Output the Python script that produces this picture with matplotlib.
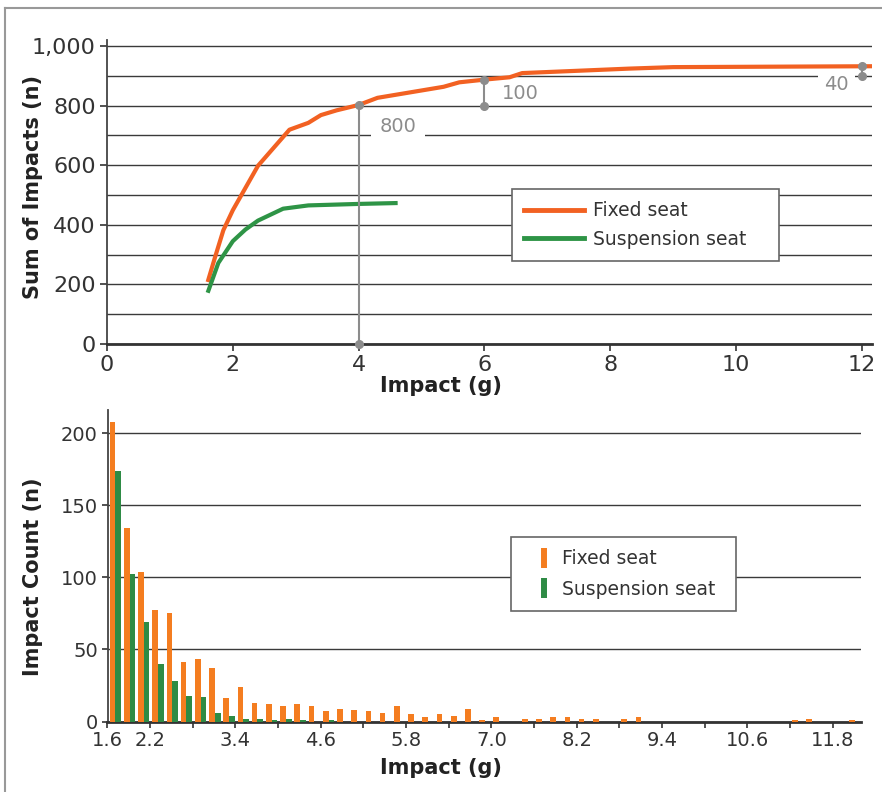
import numpy as np
import matplotlib
matplotlib.use('Agg')
import matplotlib.pyplot as plt
from matplotlib.lines import Line2D

# curvas acumuladas
fixo_x = [1.6, 1.72, 1.85, 2.0, 2.4, 2.9, 3.2, 3.4, 3.65, 4.0, 4.3, 5.35, 5.6, 6.0, 6.4, 6.6, 7.4, 8.3, 9.0, 12.2]
fixo_y = [208, 293, 382, 449, 598, 719, 742, 768, 784, 802, 826, 863, 878, 887, 895, 909, 916, 924, 929, 932]
susp_x = [1.6, 1.77, 2.0, 2.2, 2.4, 2.8, 3.2, 4.0, 4.62]
susp_y = [172, 272, 345, 384, 414, 454, 465, 470, 473]

# histograma (classes de 0.2 g)
classes = [1.6, 1.8, 2.0, 2.2, 2.4, 2.6, 2.8, 3.0, 3.2, 3.4, 3.6, 3.8, 4.0, 4.2, 4.4, 4.6, 4.8, 5.0,
           5.2, 5.4, 5.6, 5.8, 6.0, 6.2, 6.4, 6.6, 6.8, 7.0, 7.2, 7.4, 7.6, 7.8, 8.0, 8.2, 8.4, 8.6,
           8.8, 9.0, 9.2, 9.4, 9.6, 9.8, 10.0, 10.2, 10.4, 10.6, 10.8, 11.0, 11.2, 11.4, 11.6, 11.8, 12.0]
cont_fixo = [208, 134, 104, 77, 75, 41, 43, 37, 16, 24, 13, 12, 11, 12, 11, 7, 9, 8,
             7, 6, 11, 5, 3, 5, 4, 9, 1, 3, 0, 2, 2, 3, 3, 2, 2, 0,
             2, 3, 0, 0, 0, 0, 0, 0, 0, 0, 0, 0, 1, 2, 0, 0, 1]
cont_susp = [174, 102, 69, 40, 28, 18, 17, 6, 4, 2, 2, 1, 2, 1, 0, 1, 0, 0,
             0, 0, 0, 0, 0, 0, 0, 0, 0, 0, 0, 0, 0, 0, 0, 0, 0, 0,
             0, 0, 0, 0, 0, 0, 0, 0, 0, 0, 0, 0, 0, 0, 0, 0, 0]

ticks_inf = [1.6, 2.2, 2.8, 3.4, 4.0, 4.6, 5.2, 5.8, 6.4, 7.0, 7.6, 8.2, 8.8, 9.4, 10.0, 10.6, 11.2, 11.8]
rotulos_inf = ['1.6', '2.2', '', '3.4', '', '4.6', '', '5.8', '', '7.0', '', '8.2', '', '9.4', '', '10.6', '', '11.8']

LARANJA_LINHA = '#F26122'
VERDE_LINHA = '#2E9446'
LARANJA_BARRA = '#F47D20'
VERDE_BARRA = '#2E8B45'
CINZA = '#8C8C8C'
TXT = '#333333'

plt.rcParams['font.family'] = 'DejaVu Sans'

fig = plt.figure(figsize=(8.82, 7.92), dpi=100)
W, H = 882, 792

def eixo(l, r, b, t):
    return fig.add_axes([l / W, 1 - b / H, (r - l) / W, (b - t) / H])

def estilo(ax):
    for s in ['top', 'right']:
        ax.spines[s].set_visible(False)
    ax.spines['left'].set_color('#444444')
    ax.spines['left'].set_linewidth(1.3)
    ax.spines['bottom'].set_color('#333333')
    ax.spines['bottom'].set_linewidth(2.0)
    ax.tick_params(colors=TXT, length=5, width=1.2, pad=3)

# ---------------- grafico superior ----------------
ax1 = eixo(107, 872, 344, 40)
estilo(ax1)
ax1.plot(fixo_x, fixo_y, color=LARANJA_LINHA, lw=3, zorder=4, solid_capstyle='butt')
ax1.plot(susp_x, susp_y, color=VERDE_LINHA, lw=3, zorder=4, solid_capstyle='butt')
ax1.set_xlim(0, 12.16)
ax1.set_ylim(0, 1020)
ax1.set_xticks([0, 2, 4, 6, 8, 10, 12])
ax1.set_yticks([0, 200, 400, 600, 800, 1000])
ax1.set_yticklabels(['0', '200', '400', '600', '800', '1,000'])
ax1.set_yticks(np.arange(100, 1001, 100), minor=True)
ax1.tick_params(axis='both', which='major', labelsize=16)
ax1.tick_params(axis='y', which='minor', length=0)
ax1.yaxis.grid(True, which='both', color='#3a3a3a', lw=1.0)
ax1.set_axisbelow(True)

# anotacoes
kw = dict(color=CINZA, lw=1.5, marker='o', markersize=5.5, zorder=5, clip_on=False)
ax1.plot([4, 4], [0, 802], **kw)
ax1.plot([6, 6], [800, 887], **kw)
ax1.plot([12, 12], [900, 934], **kw)
ax1.text(4.63, 731, '800', color=CINZA, fontsize=14, ha='center', va='center', zorder=3,
         bbox=dict(facecolor='white', edgecolor='none', pad=6))
ax1.text(6.57, 842, '100', color=CINZA, fontsize=14, ha='center', va='center', zorder=3)
ax1.text(11.59, 871, '40', color=CINZA, fontsize=14, ha='center', va='center', zorder=3,
         bbox=dict(facecolor='white', edgecolor='none', pad=4.5))

ax1.set_xlabel('Impact (g)', fontsize=15, fontweight='bold', color='#222222')
ax1.set_ylabel('Sum of Impacts (n)', fontsize=15, fontweight='bold', color='#222222')
ax1.xaxis.set_label_coords(0.4366, -0.105)
ax1.yaxis.set_label_coords(-0.0837, 0.516)

leg1 = ax1.legend(handles=[Line2D([], [], color=LARANJA_LINHA, lw=3.5),
                           Line2D([], [], color=VERDE_LINHA, lw=3.5)],
                  labels=['Fixed seat', 'Suspension seat'],
                  loc='upper left', bbox_to_anchor=(0.529, 0.266, 0.349, 0.244), mode='expand',
                  borderaxespad=0, fontsize=13.5, handlelength=3.2, handletextpad=0.5,
                  labelspacing=0.5, borderpad=0.66, fancybox=False, framealpha=1)
leg1.get_frame().set_edgecolor('#666666')
leg1.get_frame().set_linewidth(1.2)
for t in leg1.get_texts():
    t.set_color(TXT)

# ---------------- grafico inferior ----------------
ax2 = eixo(107.5, 861, 721.5, 410)
estilo(ax2)
cl = np.array(classes)
ax2.bar(cl + 0.03, cont_fixo, width=0.08, align='edge', color=LARANJA_BARRA, zorder=3)
ax2.bar(cl + 0.11, cont_susp, width=0.08, align='edge', color=VERDE_BARRA, zorder=3)
ax2.set_xlim(1.6, 12.2)
ax2.set_ylim(0, 216)
ax2.set_xticks(ticks_inf)
ax2.set_xticklabels(rotulos_inf)
ax2.set_yticks([0, 50, 100, 150, 200])
ax2.tick_params(axis='both', labelsize=14, length=4)
ax2.yaxis.grid(True, color='#3a3a3a', lw=1.0)
ax2.set_axisbelow(True)

ax2.set_xlabel('Impact (g)', fontsize=15, fontweight='bold', color='#222222')
ax2.set_ylabel('Impact Count (n)', fontsize=15, fontweight='bold', color='#222222')
ax2.xaxis.set_label_coords(0.4426, -0.116)
ax2.yaxis.set_label_coords(-0.0856, 0.464)

leg2 = ax2.legend(handles=[Line2D([], [], ls='none', marker='|', markersize=14, markeredgewidth=4.3,
                                  color=LARANJA_BARRA),
                           Line2D([], [], ls='none', marker='|', markersize=14, markeredgewidth=4.3,
                                  color=VERDE_BARRA)],
                  labels=['Fixed seat', 'Suspension seat'],
                  loc='upper left', bbox_to_anchor=(0.536, 0.348, 0.298, 0.244), mode='expand',
                  borderaxespad=0, fontsize=13.5, handlelength=2.2, handletextpad=-0.14,
                  labelspacing=0.6, borderpad=0.66, fancybox=False, framealpha=1)
leg2.get_frame().set_edgecolor('#666666')
leg2.get_frame().set_linewidth(1.2)
for t in leg2.get_texts():
    t.set_color(TXT)

# moldura da figura (esquerda e topo)
fig.add_artist(Line2D([5 / W, 5 / W], [0, 1 - 8 / H], color='#999999', lw=1.5))
fig.add_artist(Line2D([5 / W, 1], [1 - 8 / H, 1 - 8 / H], color='#999999', lw=1.5))

plt.savefig('out.png', dpi=100)
